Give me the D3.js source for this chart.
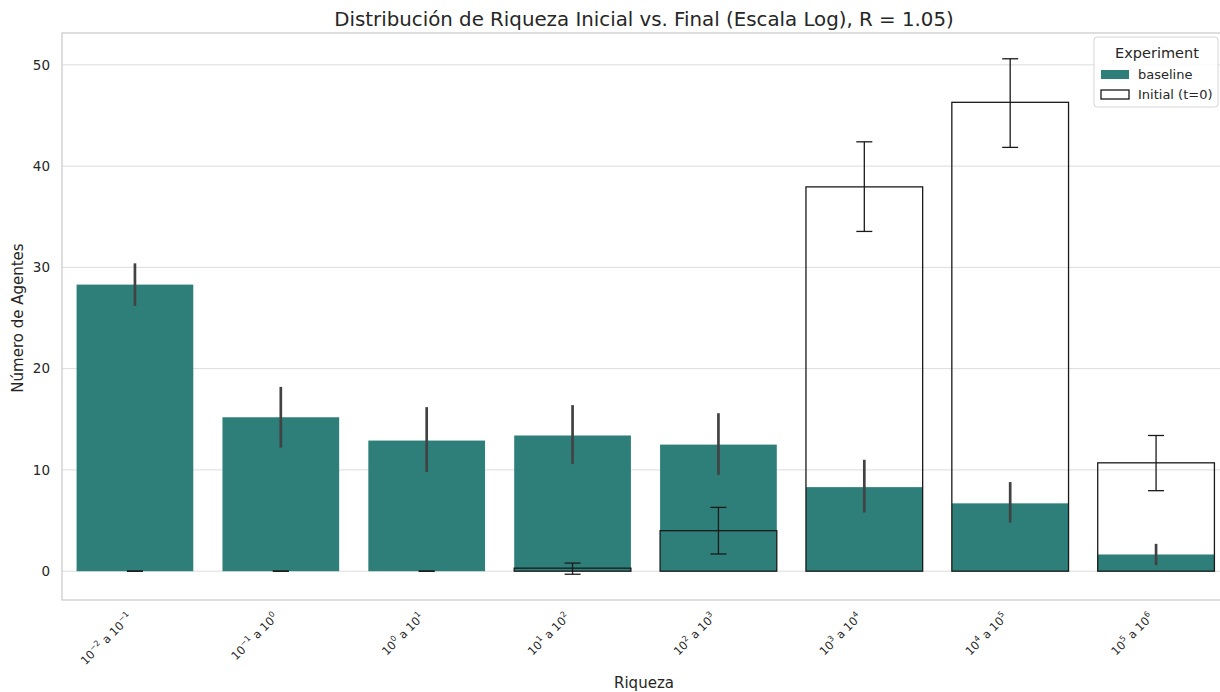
<!DOCTYPE html>
<html>
<head>
<meta charset="utf-8">
<script src="https://cdn.jsdelivr.net/npm/d3@7"></script>
<style>
  html, body { margin: 0; padding: 0; background: #fff; overflow: hidden; }
  svg { display: block; font-family: "DejaVu Sans", sans-serif; }
</style>
</head>
<body>
<svg id="chart" width="1220" height="692"></svg>
<script>
// Wealth bins (log10 exponents for each interval)
const binLow = [-2, -1, 0, 1, 2, 3, 4, 5];
const binHigh = [-1, 0, 1, 2, 3, 4, 5, 6];

// Final distribution ("baseline" experiment): mean and 95% CI
const baselineMean = [28.3, 15.2, 12.9, 13.4, 12.5, 8.3, 6.7, 1.65];
const baselineLow  = [26.2, 12.2, 9.8, 10.6, 9.5, 5.8, 4.8, 0.6];
const baselineHigh = [30.4, 18.2, 16.2, 16.4, 15.6, 11.0, 8.8, 2.7];

// Initial distribution (t = 0): mean and error interval
const initialMean = [0, 0, 0, 0.3, 4.0, 37.95, 46.3, 10.7];
const initialLow  = [0, 0, 0, -0.3, 1.7, 33.55, 41.85, 7.95];
const initialHigh = [0, 0, 0, 0.8, 6.3, 42.4, 50.6, 13.4];

const yTicks = [0, 10, 20, 30, 40, 50];
const legendTitle = "Experiment";
const seriesNames = ["baseline", "Initial (t=0)"];

const margin = { left: 62, top: 33 };
const plotW = 1167;
const plotH = 567;

const teal = "#2e7f7a";
const gridColor = "#dcdcdc";
const spineColor = "#cccccc";
const textColor = "#262626";

const svg = d3.select("#chart");
const g = svg.append("g").attr("transform", `translate(${margin.left},${margin.top})`);

const idx = d3.range(binLow.length);
const x = d3.scaleBand().domain(idx).range([0, plotW]).paddingInner(0.2).paddingOuter(0.1);

// y extent with 5% padding around all plotted values
const allVals = [].concat(baselineLow, baselineHigh, initialLow, initialHigh, [0]);
const lo = d3.min(allVals), hi = d3.max(allVals);
const pad = (hi - lo) * 0.05;
const y = d3.scaleLinear().domain([lo - pad, hi + pad]).range([plotH, 0]);

// horizontal grid
g.append("g").selectAll("line").data(yTicks).join("line")
  .attr("x1", 0).attr("x2", plotW)
  .attr("y1", d => y(d)).attr("y2", d => y(d))
  .attr("stroke", gridColor).attr("stroke-width", 1);

// y axis
const yAxis = g.append("g").call(d3.axisLeft(y).tickValues(yTicks).tickSize(0).tickPadding(12));
yAxis.select(".domain").remove();
yAxis.selectAll("text").attr("fill", textColor).attr("font-size", 13.5).attr("font-family", "DejaVu Sans");

// x axis (labels drawn separately with superscripts)
const xAxis = g.append("g").attr("transform", `translate(0,${plotH})`)
  .call(d3.axisBottom(x).tickSize(0).tickFormat(""));
xAxis.select(".domain").remove();

const cx = i => x(i) + x.bandwidth() / 2;

// baseline bars
g.append("g").selectAll("rect").data(idx).join("rect")
  .attr("x", i => x(i)).attr("width", x.bandwidth())
  .attr("y", i => y(baselineMean[i]))
  .attr("height", i => y(0) - y(baselineMean[i]))
  .attr("fill", teal);

// baseline error bars
g.append("g").selectAll("line").data(idx).join("line")
  .attr("x1", cx).attr("x2", cx)
  .attr("y1", i => y(baselineLow[i])).attr("y2", i => y(baselineHigh[i]))
  .attr("stroke", "#424242").attr("stroke-width", 2.7);

// initial bars (outline only)
g.append("g").selectAll("rect").data(idx).join("rect")
  .attr("x", i => x(i)).attr("width", x.bandwidth())
  .attr("y", i => y(initialMean[i]))
  .attr("height", i => y(0) - y(initialMean[i]))
  .attr("fill", "none").attr("stroke", "#1a1a1a").attr("stroke-width", 1.3);

// initial error bars with caps
const capW = 16;
const eb = g.append("g").selectAll("g").data(idx).join("g");
eb.append("line")
  .attr("x1", cx).attr("x2", cx)
  .attr("y1", i => y(initialLow[i])).attr("y2", i => y(initialHigh[i]))
  .attr("stroke", "#1a1a1a").attr("stroke-width", 1.3);
eb.append("line")
  .attr("x1", i => cx(i) - capW / 2).attr("x2", i => cx(i) + capW / 2)
  .attr("y1", i => y(initialLow[i])).attr("y2", i => y(initialLow[i]))
  .attr("stroke", "#1a1a1a").attr("stroke-width", 1.3);
eb.append("line")
  .attr("x1", i => cx(i) - capW / 2).attr("x2", i => cx(i) + capW / 2)
  .attr("y1", i => y(initialHigh[i])).attr("y2", i => y(initialHigh[i]))
  .attr("stroke", "#1a1a1a").attr("stroke-width", 1.3);

// spines
g.append("rect").attr("x", 0).attr("y", 0).attr("width", plotW).attr("height", plotH)
  .attr("fill", "none").attr("stroke", spineColor).attr("stroke-width", 1.3);

// rotated x tick labels: 10^a a 10^b
const minus = v => v < 0 ? "\u2212" + Math.abs(v) : String(v);
const lbl = g.append("g").selectAll("text").data(idx).join("text")
  .attr("transform", i => `translate(${cx(i) - 2},${plotH + 18}) rotate(-45)`)
  .attr("text-anchor", "end")
  .attr("font-size", 11.5)
  .attr("fill", textColor);
lbl.each(function(i) {
  const t = d3.select(this);
  t.append("tspan").text("10");
  t.append("tspan").attr("font-size", 8).attr("dy", -5).text(minus(binLow[i]));
  t.append("tspan").attr("dy", 5).text(" a 10");
  t.append("tspan").attr("font-size", 8).attr("dy", -5).text(minus(binHigh[i]));
});

// axis titles
svg.append("text").attr("x", 644).attr("y", 688)
  .attr("text-anchor", "middle").attr("font-size", 15).attr("fill", textColor).text("Riqueza");
svg.append("text").attr("transform", `translate(23,318) rotate(-90)`)
  .attr("text-anchor", "middle").attr("font-size", 15).attr("fill", textColor).text("Número de Agentes");

// title
svg.append("text").attr("x", 644).attr("y", 26)
  .attr("text-anchor", "middle").attr("font-size", 19.8).attr("fill", textColor)
  .text("Distribución de Riqueza Inicial vs. Final (Escala Log), R = 1.05)");

// legend
const lg = svg.append("g").attr("transform", "translate(1094,37)");
lg.append("rect").attr("width", 124).attr("height", 70).attr("rx", 3)
  .attr("fill", "#fff").attr("fill-opacity", 0.85).attr("stroke", "#d6d6d6");
lg.append("text").attr("x", 63).attr("y", 21).attr("text-anchor", "middle")
  .attr("font-size", 14.5).attr("fill", textColor).text(legendTitle);
lg.append("rect").attr("x", 7).attr("y", 33).attr("width", 28).attr("height", 9).attr("fill", teal);
lg.append("rect").attr("x", 7).attr("y", 53).attr("width", 28).attr("height", 9)
  .attr("fill", "none").attr("stroke", "#1a1a1a").attr("stroke-width", 1.3);
seriesNames.forEach((s, k) => {
  lg.append("text").attr("x", 44).attr("y", 42 + k * 20).attr("font-size", 13)
    .attr("fill", textColor).text(s);
});
</script>
</body>
</html>
